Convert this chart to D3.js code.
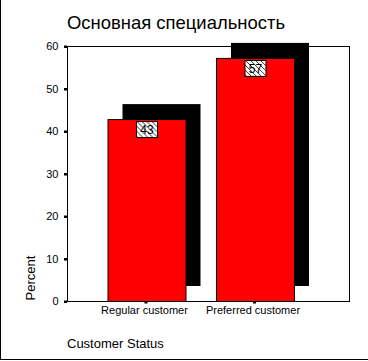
<!DOCTYPE html>
<html>
<head>
<meta charset="utf-8">
<script src="https://cdn.jsdelivr.net/npm/d3@7"></script>
<style>
html,body{margin:0;padding:0;background:#fff;}
svg{display:block;font-family:"Liberation Sans",Arial,sans-serif;}
</style>
</head>
<body>
<svg id="c" width="368" height="361"></svg>
<script>
const categories = ["Regular customer", "Preferred customer"];
const values = [42.8, 57.2];
const yTicks = [0, 10, 20, 30, 40, 50, 60];
const title = "Основная специальность";
const xTitle = "Customer Status";
const yTitle = "Percent";

(function(){
const svg = d3.select("#c");
const pLeft = 67, pRight = 349, pTop = 46, pBottom = 301;
const depth = 15;

// outer border (left and bottom)
svg.append("line").attr("x1",0.5).attr("x2",0.5).attr("y1",0).attr("y2",360).attr("stroke","#000");
svg.append("line").attr("x1",0).attr("x2",368).attr("y1",359.5).attr("y2",359.5).attr("stroke","#000");

const y = d3.scaleLinear().domain([0,60]).range([pBottom, pTop]);
const step = 108.5;
const x = d3.scaleBand().domain(categories)
  .range([146.5 - step/2, 255 + step/2])
  .paddingInner(0.281).paddingOuter(0.1405);

const defs = svg.append("defs");
const pat = defs.append("pattern").attr("id","hatch").attr("patternUnits","userSpaceOnUse")
  .attr("width",5).attr("height",5);
pat.append("rect").attr("width",5).attr("height",5).attr("fill","#fff");
pat.append("path").attr("d","M0,0 L5,5 M-1,4 L1,6 M4,-1 L6,1").attr("stroke","#000").attr("stroke-width",0.8);

// plot frame
svg.append("rect").attr("x",pLeft+0.5).attr("y",pTop+0.5).attr("width",pRight-pLeft).attr("height",pBottom-pTop)
  .attr("fill","none").attr("stroke","#000");

// y axis ticks
const yAxis = d3.axisLeft(y).tickValues(yTicks).tickSize(0).tickPadding(9).tickFormat(d3.format("d"));
const ga = svg.append("g").attr("transform",`translate(${pLeft+0.5},0)`).call(yAxis);
ga.select(".domain").remove();
ga.selectAll("text").attr("font-size",11).attr("font-family","Liberation Sans, Arial, sans-serif").attr("fill","#000");
ga.selectAll(".tick").append("rect").attr("x",-3.5).attr("y",-1).attr("width",3).attr("height",2.5).attr("fill","#000");

// shadows
svg.selectAll("rect.shadow").data(categories).enter().append("rect")
  .attr("class","shadow")
  .attr("x",(d)=>x(d)+depth)
  .attr("y",(d,i)=>y(values[i])-depth)
  .attr("width",x.bandwidth())
  .attr("height",(d,i)=>y(0)-y(values[i]))
  .attr("fill","#000");

// bars
svg.selectAll("rect.bar").data(categories).enter().append("rect")
  .attr("class","bar")
  .attr("x",(d)=>x(d)+0.5)
  .attr("y",(d,i)=>y(values[i])+0.5)
  .attr("width",x.bandwidth())
  .attr("height",(d,i)=>y(0)-y(values[i]))
  .attr("fill","#ff0000").attr("stroke","#000");

// value labels
const lab = svg.selectAll("g.lab").data(categories).enter().append("g").attr("class","lab")
  .attr("transform",(d,i)=>`translate(${x(d)+x.bandwidth()/2},${y(values[i])+2})`);
lab.append("rect").attr("x",-10).attr("y",0.5).attr("width",21).attr("height",16)
  .attr("fill","url(#hatch)").attr("stroke","#000");
lab.append("text").attr("x",0.5).attr("y",13).attr("text-anchor","middle").attr("font-size",12)
  .text((d,i)=>Math.round(values[i]));

// x tick marks and labels
svg.selectAll("rect.xt").data(categories).enter().append("rect").attr("class","xt")
  .attr("x",d=>x(d)+x.bandwidth()/2-2).attr("y",pBottom+1).attr("width",3).attr("height",1.5).attr("fill","#000");
svg.selectAll("text.xl").data(categories).enter().append("text").attr("class","xl")
  .attr("x",d=>x(d)+x.bandwidth()/2-2).attr("y",314).attr("text-anchor","middle").attr("font-size",11)
  .text(d=>d);

// titles
svg.append("text").attr("x",67).attr("y",29).attr("font-size",19)
  .attr("textLength",218).attr("lengthAdjust","spacingAndGlyphs").text(title);
svg.append("text").attr("x",67).attr("y",348).attr("font-size",13).text(xTitle);
svg.append("text").attr("transform","translate(35,278) rotate(-90)").attr("text-anchor","middle").attr("font-size",13).text(yTitle);
})();
</script>
</body>
</html>
